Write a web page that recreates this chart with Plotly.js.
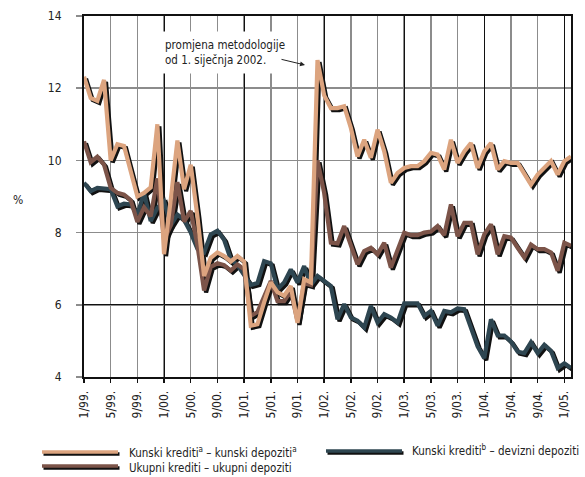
<!DOCTYPE html>
<html>
<head>
<meta charset="utf-8">
<script src="https://cdn.plot.ly/plotly-3.0.1.min.js"></script>
<style>html,body{margin:0;padding:0;background:#fff;}#chart{width:585px;height:477px;}</style>
</head>
<body>
<div id="chart"></div>
<script>
// Monthly data, 1/99 .. 2/05
const tickLabels = ["1/99.","5/99.","9/99.","1/00.","5/00.","9/00.","1/01.","5/01.","9/01.","1/02.","5/02.","9/02.","1/03.","5/03.","9/03.","1/04.","5/04.","9/04.","1/05."];

const kunskiKunski = [12.32,11.73,11.65,12.23,10.0,10.45,10.4,9.75,9.0,9.1,9.25,11.0,7.4,8.9,10.55,9.2,9.88,8.45,6.8,7.3,
  7.45,7.35,7.2,7.35,7.2,5.42,5.46,6.07,6.62,6.35,6.25,6.52,5.5,6.71,6.62,12.78,11.8,11.45,11.45,11.5,
  10.9,10.11,10.57,10.07,10.85,10.25,9.38,9.65,9.79,9.84,9.84,9.98,10.21,10.16,9.75,10.57,9.93,10.25,10.48,9.79,
  10.25,10.48,9.75,9.98,9.93,9.93,9.65,9.33,9.61,9.79,9.98,9.61,9.98,10.11];

const ukupniUkupni = [10.53,9.95,10.1,9.88,9.24,9.1,9.05,8.9,8.3,8.7,8.45,9.5,7.8,8.2,9.4,8.3,8.6,7.65,6.4,7.05,
  7.15,7.1,6.95,7.12,6.98,5.69,5.8,6.2,6.66,6.1,6.1,6.38,5.55,6.6,6.55,10.0,9.1,7.72,7.7,8.18,
  7.67,7.12,7.49,7.58,7.4,7.72,7.03,7.5,8.0,7.93,7.93,8.0,8.03,8.18,7.93,8.78,7.9,8.27,8.27,7.4,
  7.95,8.23,7.4,7.9,7.86,7.58,7.31,7.67,7.54,7.54,7.45,6.94,7.72,7.63];

const kunskiDevizni = [9.38,9.15,9.24,9.22,9.2,8.73,8.8,8.78,8.5,9.1,8.32,8.69,8.87,8.2,8.5,8.35,8.0,7.55,7.45,7.95,
  8.05,7.8,7.26,7.1,6.8,6.55,6.6,7.21,7.15,6.43,6.62,6.98,6.62,7.07,6.55,6.8,6.66,6.52,5.6,6.02,
  5.65,5.56,5.37,5.97,5.51,5.74,5.65,5.51,6.04,6.04,6.04,5.69,5.83,5.42,5.83,5.79,5.9,5.88,5.35,4.85,
  4.52,5.6,5.15,5.15,4.98,4.7,4.66,4.96,4.66,4.89,4.72,4.25,4.38,4.25];

const seriesNames = ["Kunski krediti<sup>a</sup> – kunski depoziti<sup>a</sup>", "Ukupni krediti – ukupni depoziti", "Kunski krediti<sup>b</sup> – devizni depoziti"];
const colors = {light: "#DCA47F", brown: "#7C5449", dark: "#2E4651"};

const xIdx = kunskiKunski.map((_, i) => i);
const tickVals = tickLabels.map((_, i) => i * 4);
const yearVals = tickVals.filter((v, i) => i % 3 === 0);

const FONT = "'Liberation Sans Narrow', 'DejaVu Sans Condensed', 'Arial Narrow', sans-serif";
const W = 585, H = 477, ML = 84, MR = 12, MT = 16, MB = 98;
const PW = W - ML - MR, PH = H - MT - MB;
const dx = 2 / PW, dy = 2 / PH;
const px = x => (x - ML) / PW;
const py = y => (H - MB - y) / PH;

const series = [
  {y: kunskiDevizni, c: colors.dark},
  {y: ukupniUkupni, c: colors.brown},
  {y: kunskiKunski, c: colors.light}
];
const traces = [];
// grid subplot carrier (transparent)
traces.push({x: xIdx, y: kunskiKunski, type: 'scatter', mode: 'lines', xaxis: 'x', yaxis: 'y', opacity: 0,
  line: {color: 'rgba(0,0,0,0)', width: 0}, hoverinfo: 'skip'});
series.forEach(s => traces.push({x: xIdx, y: s.y, type: 'scatter', mode: 'lines', xaxis: 'x2', yaxis: 'y2',
  line: {color: '#111', width: 4.2, shape: 'linear'}, hoverinfo: 'skip'}));
series.forEach(s => traces.push({x: xIdx, y: s.y, type: 'scatter', mode: 'lines', xaxis: 'x3', yaxis: 'y3',
  line: {color: s.c, width: 4.2, shape: 'linear'}, hoverinfo: 'skip'}));

const shapes = [];
function legLine(x0, x1, y, c) {
  shapes.push({type: 'line', xref: 'paper', yref: 'paper', x0: px(x0 + 1.5), x1: px(x1 + 1.5), y0: py(y + 2), y1: py(y + 2), line: {color: '#111', width: 3.5}, layer: 'above'});
  shapes.push({type: 'line', xref: 'paper', yref: 'paper', x0: px(x0), x1: px(x1), y0: py(y), y1: py(y), line: {color: c, width: 3.5}, layer: 'above'});
}
legLine(42, 118, 452, colors.light);
legLine(42, 118, 466, colors.brown);
legLine(326, 402, 451, colors.dark);

const legFont = {family: FONT, size: 11.5, color: '#222'};
const annotations = [
  {xref: 'paper', yref: 'paper', x: px(127), y: py(460), xanchor: 'left', yanchor: 'middle', showarrow: false, align: 'left',
    text: seriesNames[0] + '<br>' + seriesNames[1], font: legFont},
  {xref: 'paper', yref: 'paper', x: px(410), y: py(450), xanchor: 'left', yanchor: 'middle', showarrow: false, text: seriesNames[2], font: legFont},
  {xref: 'paper', yref: 'paper', x: px(18), y: py(200), xanchor: 'center', yanchor: 'middle', showarrow: false, text: '%', font: {family: FONT, size: 12, color: '#222'}},
  {xref: 'paper', yref: 'paper', x: px(158), y: py(52), xanchor: 'left', yanchor: 'middle', showarrow: false, align: 'left',
    text: 'promjena metodologije<br>od 1. siječnja 2002.', bgcolor: '#fff', borderpad: 6, font: {family: FONT, size: 11.5, color: '#222'}},
  {xref: 'paper', yref: 'paper', x: px(305), y: py(65), ax: -25, ay: -6, showarrow: true, text: '', arrowhead: 2, arrowsize: 1, arrowwidth: 1, arrowcolor: '#222'}
];

const layout = {
  width: W, height: H,
  margin: {l: ML, r: MR, t: MT, b: MB, pad: 0},
  paper_bgcolor: '#fff', plot_bgcolor: 'rgba(0,0,0,0)',
  showlegend: false,
  font: {family: FONT, size: 12, color: '#222'},
  xaxis: {domain: [0, 1 - dx], range: [0, 73], anchor: 'y', tickmode: 'array', tickvals: tickVals, ticktext: tickLabels,
    tickangle: -90, ticks: 'outside', ticklen: 5, tickwidth: 1.5, tickcolor: '#111', showgrid: true, gridcolor: '#8c8c8c', gridwidth: 1.5,
    zeroline: false, showline: false, ticklabelstandoff: 3, tickfont: {family: FONT, size: 12, color: '#222'}},
  yaxis: {domain: [dy, 1], range: [4, 14], anchor: 'x', tickmode: 'linear', tick0: 4, dtick: 2, ticks: 'outside', ticklen: 7, tickwidth: 1.5,
    tickcolor: '#8c8c8c', showgrid: true, gridcolor: '#8c8c8c', gridwidth: 1.5, zeroline: false, showline: false,
    ticklabelstandoff: 12, tickfont: {family: FONT, size: 12, color: '#222'}},
  xaxis2: {domain: [dx, 1], range: [0, 73], anchor: 'y2', visible: false},
  yaxis2: {domain: [0, 1 - dy], range: [4, 14], anchor: 'x2', visible: false},
  xaxis3: {domain: [0, 1 - dx], range: [0, 73], anchor: 'y3', tickmode: 'array', tickvals: yearVals, showticklabels: false, ticks: '',
    showgrid: true, gridcolor: '#111', gridwidth: 1, zeroline: false, showline: true, linecolor: '#111', linewidth: 2, mirror: true},
  yaxis3: {domain: [dy, 1], range: [4, 14], anchor: 'x3', tickmode: 'array', tickvals: [6], showticklabels: false, ticks: '',
    showgrid: true, gridcolor: '#111', gridwidth: 1, zeroline: false, showline: true, linecolor: '#111', linewidth: 2, mirror: true},
  shapes: shapes,
  annotations: annotations
};

Plotly.newPlot('chart', traces, layout, {staticPlot: true, displayModeBar: false});
</script>
</body>
</html>
